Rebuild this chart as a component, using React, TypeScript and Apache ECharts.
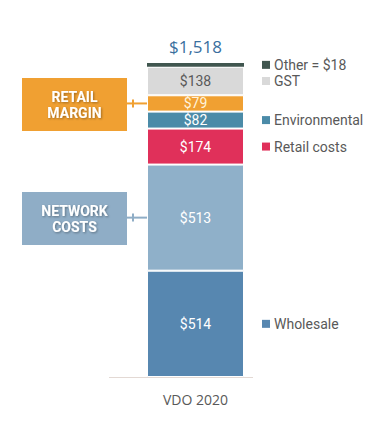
import React, { useEffect, useRef } from "react";
import * as echarts from "echarts";

const categories = ["VDO 2020"];
const seriesNames = ["Wholesale", "Network", "Retail costs", "Environmental", "Retail margin", "GST", "Other"];
const seriesValues = [514, 513, 174, 82, 79, 138, 18];
const seriesColors = ["#5787b0", "#8fb0c9", "#e0305a", "#4b8ba8", "#f0a032", "#d9d9d9", "#40564f"];
const labelColors = ["#ffffff", "#ffffff", "#ffffff", "#ffffff", "#fff3dc", "#595959", "#ffffff"];
const legendNames = ["Wholesale", "Retail costs", "Environmental", "GST", "Other"];
const legendTexts = ["Wholesale", "Retail costs", "Environmental", "GST", "Other = $18"];
const totalLabel = "$1,518";
const FONT = "'Open Sans', 'Noto Sans', sans-serif";
const FONT2 = "Roboto, 'Open Sans', sans-serif";
const BAR_W = 97;

export default function App() {
  const ref = useRef<HTMLDivElement>(null);
  useEffect(() => {
    const chart = echarts.init(ref.current!, null, { renderer: "svg" });
    const total = seriesValues.reduce((a, b) => a + b, 0);
    const series = seriesNames.map((name, i) => ({
      name,
      type: "bar",
      stack: "s",
      barWidth: BAR_W,
      data: [seriesValues[i]],
      itemStyle: { color: seriesColors[i], borderColor: "#ffffff", borderWidth: i === 6 ? 0 : 1 },
      label:
        i === 6
          ? {
              show: true,
              position: "top",
              distance: 8,
              formatter: () => totalLabel,
              color: "#3a6f9e",
              fontSize: 17,
              fontFamily: FONT,
            }
          : {
              show: true,
              position: "inside",
              formatter: (p: any) => "$" + p.value,
              color: labelColors[i],
              fontSize: 14,
              fontFamily: FONT2,
            },
    }));
    chart.setOption({
      animation: false,
      grid: { left: 138, right: 138, top: 63, bottom: 51 },
      xAxis: {
        type: "category",
        data: categories,
        axisLine: { show: false },
        axisTick: { show: false },
        axisLabel: { color: "#595959", fontSize: 14, fontFamily: FONT, margin: 15 },
      },
      yAxis: { type: "value", min: 0, max: total, show: false, splitLine: { show: false } },
      series,
    });

    const centerY = (name: string) => {
      const idx = seriesNames.indexOf(name);
      let cum = 0;
      for (let k = 0; k < idx; k++) cum += seriesValues[k];
      const mid = cum + seriesValues[idx] / 2;
      return chart.convertToPixel({ gridIndex: 0 }, [0, mid]) as number[];
    };
    const base = chart.convertToPixel({ gridIndex: 0 }, [0, 0]) as number[];
    const barRight = base[0] + BAR_W / 2;
    const barLeft = barRight - BAR_W;

    const graphics: any[] = [];
    graphics.push({
      type: "line",
      shape: { x1: 109, y1: base[1] + 0.5, x2: 253, y2: base[1] + 0.5 },
      style: { stroke: "#e3d9d4", lineWidth: 1 },
      z: 10,
    });
    legendNames.forEach((n, j) => {
      const y = centerY(n)[1];
      const idx = seriesNames.indexOf(n);
      graphics.push({
        type: "rect",
        shape: { x: barRight + 18, y: y - 4, width: 8, height: 8 },
        style: { fill: seriesColors[idx] },
      });
      graphics.push({
        type: "text",
        x: barRight + 30,
        y,
        style: {
          text: legendTexts[j],
          fill: "#595959",
          font: `14px ${FONT2}`,
          verticalAlign: "middle",
        },
      });
    });

    const callouts = [
      { name: "Retail margin", lines: ["RETAIL", "MARGIN"], color: "#f0a032", boxTop: 78 },
      { name: "Network", lines: ["NETWORK", "COSTS"], color: "#8fadc6", boxTop: 192 },
    ];
    callouts.forEach((c) => {
      const y = centerY(c.name)[1];
      graphics.push({
        type: "rect",
        shape: { x: 22, y: c.boxTop, width: 105, height: 53 },
        style: { fill: c.color },
      });
      c.lines.forEach((t, k) => {
        graphics.push({
          type: "text",
          x: 74.5,
          y: c.boxTop + 18.5 + k * 16,
          style: {
            text: t,
            fill: "#ffffff",
            font: `bold 14px ${FONT2}`,
            align: "center",
            verticalAlign: "middle",
            textShadowColor: "rgba(0,0,0,0.35)",
            textShadowBlur: 2,
            textShadowOffsetX: 1,
            textShadowOffsetY: 1,
          },
        });
      });
      graphics.push({
        type: "line",
        shape: { x1: 127, y1: y, x2: barLeft, y2: y },
        style: { stroke: c.color, lineWidth: 2 },
      });
      graphics.push({
        type: "line",
        shape: { x1: 133, y1: y - 4, x2: 133, y2: y + 4 },
        style: { stroke: c.color, lineWidth: 2 },
      });
    });
    chart.setOption({ graphic: graphics });
    return () => chart.dispose();
  }, []);
  return <div ref={ref} style={{ width: 391, height: 428, position: "absolute", left: 0, top: 0, background: "#fff" }} />;
}
